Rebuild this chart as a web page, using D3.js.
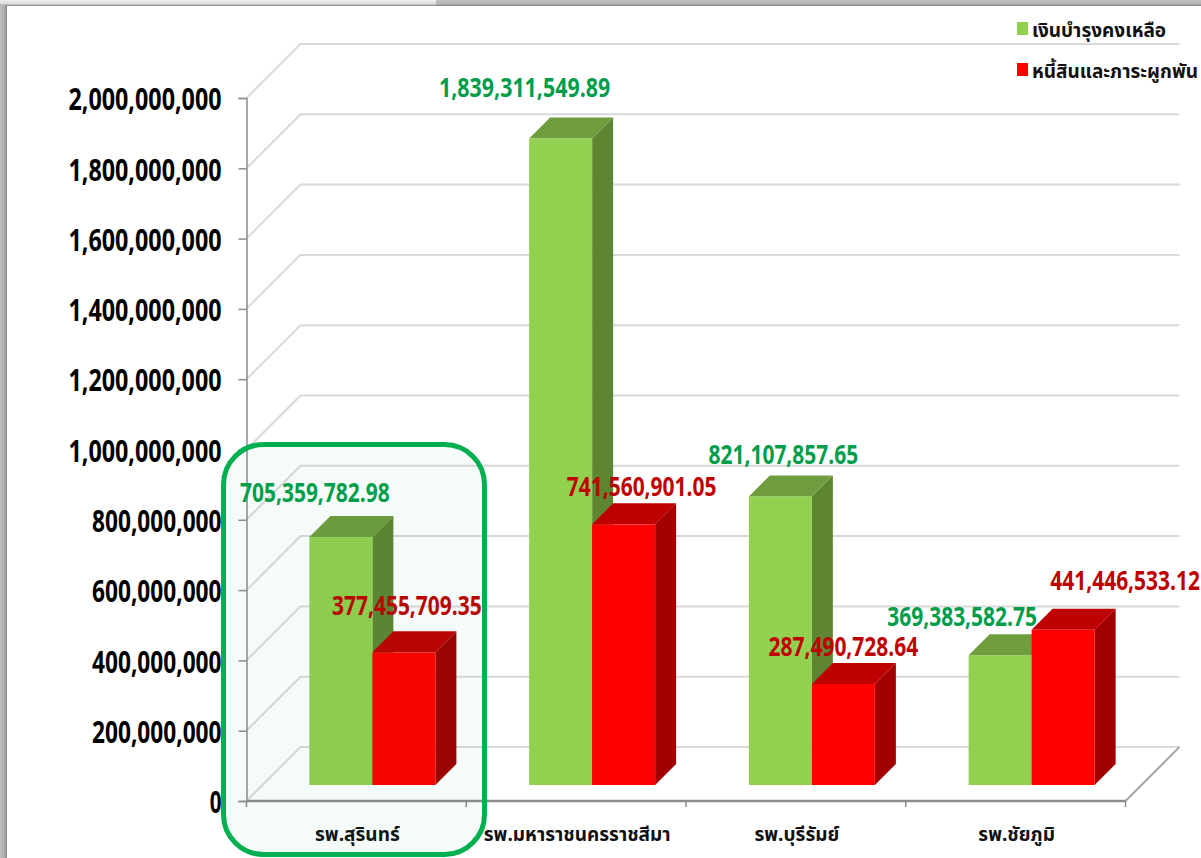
<!DOCTYPE html>
<html><head><meta charset="utf-8">
<script src="https://cdn.jsdelivr.net/npm/d3@7/dist/d3.min.js"></script>
<style>html,body{margin:0;padding:0;background:#fff;overflow:hidden}svg{display:block}</style>
</head><body><svg id="c" width="1201" height="858"></svg>
<script>
const categories = ["รพ.สุรินทร์", "รพ.มหาราชนครราชสีมา", "รพ.บุรีรัมย์", "รพ.ชัยภูมิ"];
const seriesNames = ["เงินบำรุงคงเหลือ", "หนี้สินและภาระผูกพัน"];
const cashValues = [705359782.98, 1839311549.89, 821107857.65, 369383582.75];
const debtValues = [377455709.35, 741560901.05, 287490728.64, 441446533.12];
const yTicks = [0, 200000000, 400000000, 600000000, 800000000, 1000000000, 1200000000, 1400000000, 1600000000, 1800000000, 2000000000];

const FONT = '"Open Sans","Noto Sans",sans-serif';
const THAI = '"Noto Sans Thai","Noto Sans","Open Sans","DejaVu Sans",sans-serif';
const svg = d3.select("#c");
const x = d3.scaleBand().domain(categories).range([246.5, 1125.5]);
const y = d3.scaleLinear().domain([0, 2e9]).range([801, 98]);
const wall = 54, barOffset = 16, barDepth = 21, barW = 63;

// frame shadow
const defs = svg.append("defs");
const gt = defs.append("linearGradient").attr("id","gt").attr("x1",0).attr("x2",0).attr("y1",0).attr("y2",1);
gt.append("stop").attr("offset",0).attr("stop-color","#eeeeee");
gt.append("stop").attr("offset",0.65).attr("stop-color","#dcdcdc");
gt.append("stop").attr("offset",1).attr("stop-color","#858585");
const gt2 = defs.append("linearGradient").attr("id","gt2").attr("x1",0).attr("x2",0).attr("y1",0).attr("y2",1);
gt2.append("stop").attr("offset",0).attr("stop-color","#c4c4c4");
gt2.append("stop").attr("offset",0.65).attr("stop-color","#b4b4b4");
gt2.append("stop").attr("offset",1).attr("stop-color","#858585");
const gl = defs.append("linearGradient").attr("id","gl");
gl.append("stop").attr("offset",0).attr("stop-color","#bdbdbd");
gl.append("stop").attr("offset",0.7).attr("stop-color","#aaaaaa");
gl.append("stop").attr("offset",1).attr("stop-color","#808080");
svg.append("rect").attr("x",0).attr("y",0).attr("width",436).attr("height",6).attr("fill","url(#gt)");
svg.append("rect").attr("x",436).attr("y",0).attr("width",765).attr("height",6).attr("fill","url(#gt2)");
svg.append("rect").attr("x",0).attr("y",5).attr("width",7).attr("height",853).attr("fill","url(#gl)");

// gridlines on wall and side wall
const grid = svg.append("g").attr("fill","none").attr("stroke","#d9d9d9").attr("stroke-width",2);
yTicks.forEach(t => {
  const p = d3.path();
  p.moveTo(x.range()[0], y(t));
  p.lineTo(x.range()[0] + wall, y(t) - wall);
  p.lineTo(x.range()[1] + wall, y(t) - wall);
  grid.append("path").attr("d", p.toString());
});
// floor right edge
grid.append("line").attr("x1",x.range()[1]).attr("y1",y(0)).attr("x2",x.range()[1]+wall).attr("y2",y(0)-wall).attr("stroke","#a6a6a6");

// axes
const yAxis = d3.axisLeft(y).tickValues(yTicks).tickSize(8).tickPadding(17).tickFormat(d3.format(","));
const gy = svg.append("g").attr("transform",`translate(${x.range()[0]},0)`).call(yAxis);
gy.select(".domain").attr("stroke","#8c8c8c").attr("stroke-width",1.5);
gy.selectAll(".tick line").attr("stroke","#8c8c8c").attr("stroke-width",1.5);
gy.selectAll("text").attr("fill","#000").attr("dy","0.38em").style("font-family",FONT).style("font-weight",700).style("font-size","31px")
  .attr("textLength", d => String(d3.format(",")(d)).length * 11.77).attr("lengthAdjust","spacingAndGlyphs");

const gx = svg.append("g").attr("transform",`translate(0,${y(0)})`);
gx.append("line").attr("x1",x.range()[0]).attr("x2",x.range()[1]).attr("stroke","#8c8c8c").attr("stroke-width",2.5);
[...categories.map(c => x(c)), x.range()[1]].forEach(v =>
  gx.append("line").attr("x1",v).attr("x2",v).attr("y1",0).attr("y2",6).attr("stroke","#8c8c8c").attr("stroke-width",1.5));
gx.selectAll("text.c").data(categories).join("text").attr("class","c")
  .attr("x", c => x(c) + x.bandwidth()/2 + 1).attr("y", 40).attr("text-anchor","middle")
  .style("font-family",THAI).style("font-weight",700).style("font-size","19px").attr("fill","#111").text(c => c);

// bars
const colors = [
  {front:"#92d050", top:"#6f9c3c", side:"#5e8532", label:"#009e4a"},
  {front:"#ff0000", top:"#bf0000", side:"#a20000", label:"#c00000"}
];
const labelDX = [[-26, -36, 3, -38],[3, 18, 0, 62]];
const labelDY = [[-45, -51, -42, -39],[-47, -38, -38, -50]];
const groupOffset = (x.bandwidth() - 2*barW)/2 + barOffset;
const series = [cashValues, debtValues];
const order = [];
categories.forEach((c,i) => { order.push([0,i]); order.push([1,i]); });
const bars = svg.append("g");
order.forEach(([s,i]) => {
  const v = series[s][i], col = colors[s];
  const x0 = x(categories[i]) + groupOffset + s*barW;
  const yb = y(0) - barOffset, yt = y(v) - barOffset;
  bars.append("polygon").attr("fill",col.side)
    .attr("points",[[x0+barW,yt],[x0+barW+barDepth,yt-barDepth],[x0+barW+barDepth,yb-barDepth],[x0+barW,yb]].join(" "));
  bars.append("polygon").attr("fill",col.top)
    .attr("points",[[x0,yt],[x0+barDepth,yt-barDepth],[x0+barW+barDepth,yt-barDepth],[x0+barW,yt]].join(" "));
  bars.append("rect").attr("x",x0).attr("y",yt).attr("width",barW).attr("height",yb-yt).attr("fill",col.front);
});
// labels
order.forEach(([s,i]) => {
  const v = series[s][i];
  const x0 = x(categories[i]) + groupOffset + s*barW + barW/2;
  const txt = d3.format(",.2f")(v);
  svg.append("text").attr("x",x0+labelDX[s][i]).attr("y",y(v)-barOffset+labelDY[s][i]+10)
    .attr("text-anchor","middle").attr("fill",colors[s].label)
    .style("font-family",FONT).style("font-weight",700).style("font-size","27px")
    .attr("textLength",txt.length*10.7).attr("lengthAdjust","spacingAndGlyphs")
    .text(txt);
});
// legend
seriesNames.forEach((n,i) => {
  const g = svg.append("g").attr("transform",`translate(1017,${30+i*41})`);
  g.append("rect").attr("x",0).attr("y",-8).attr("width",11).attr("height",13).attr("fill",colors[i].front);
  g.append("text").attr("x",15).attr("y",7).style("font-family",THAI).style("font-weight",700).style("font-size","19px").attr("fill","#111").text(n);
});
// highlight box
svg.append("rect").attr("x",223.5).attr("y",444.5).attr("width",261).attr("height",410).attr("rx",40).attr("ry",40)
  .attr("fill","#00a050").attr("fill-opacity",0.04).attr("stroke","#00b050").attr("stroke-width",5);
</script></body></html>
